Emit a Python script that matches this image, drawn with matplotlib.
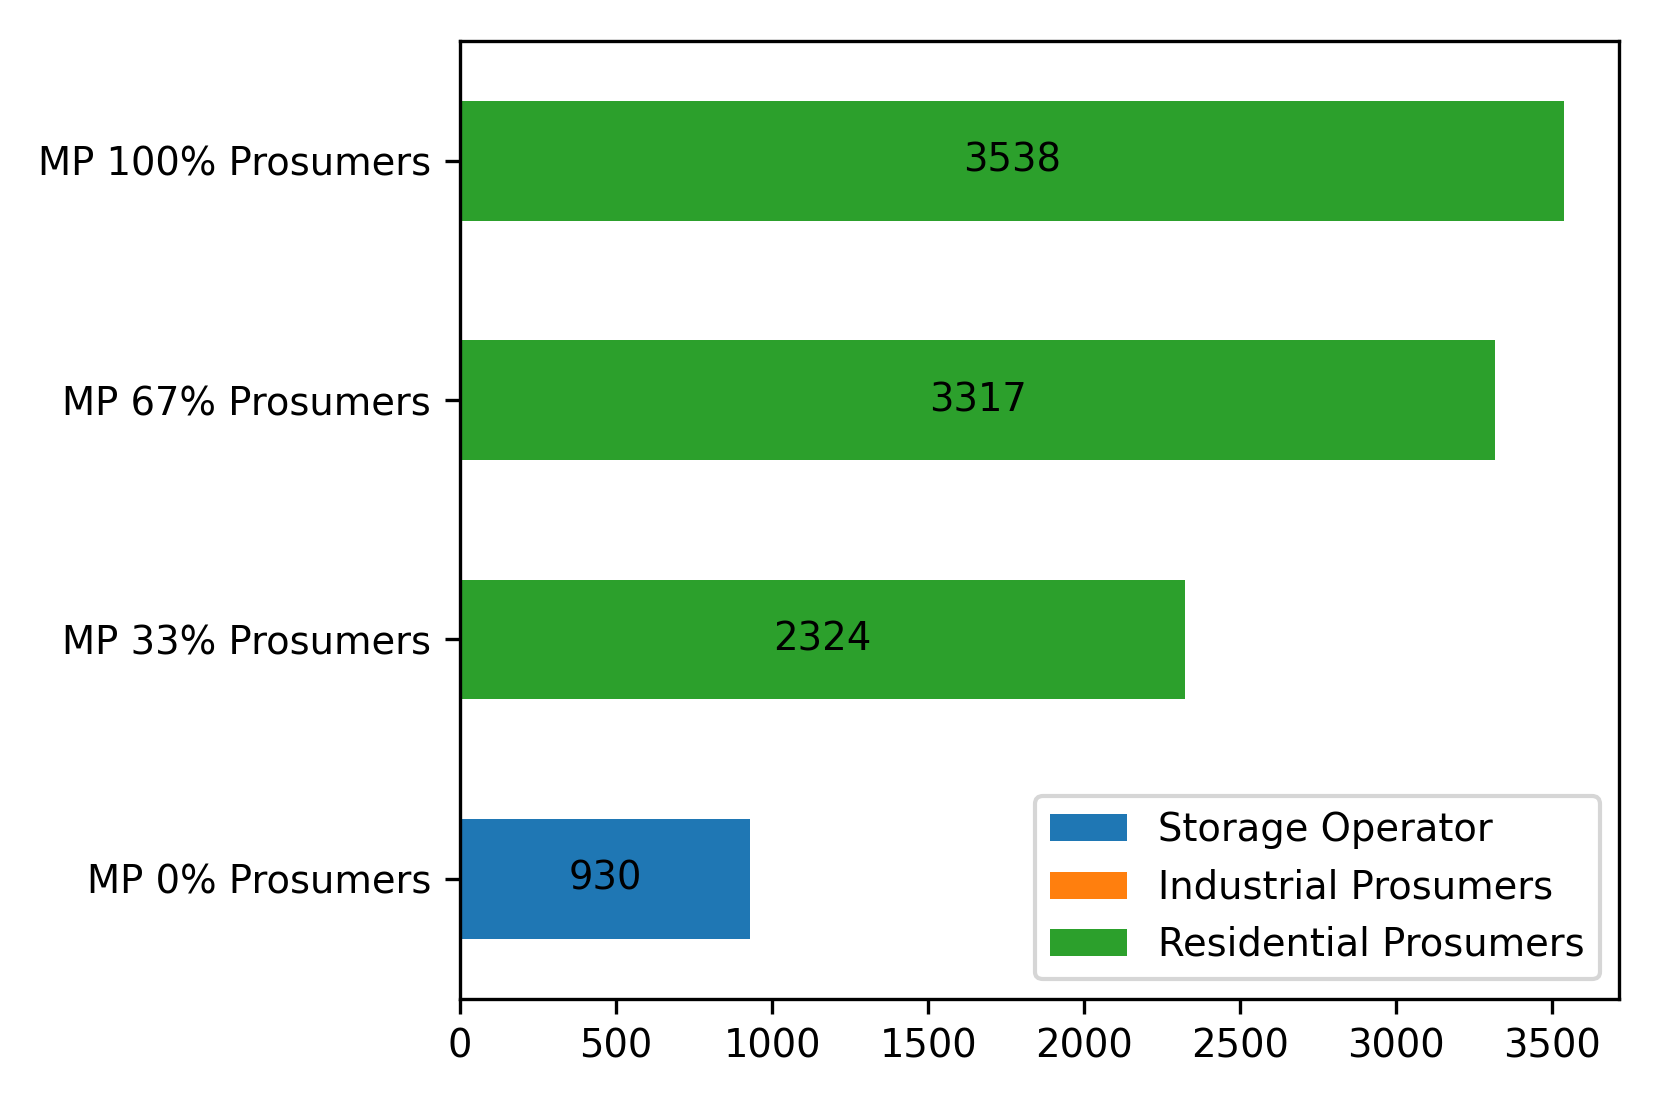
import numpy as np
import matplotlib
matplotlib.use("Agg")
import matplotlib.pyplot as plt

# data
scenarios = ["MP 0% Prosumers", "MP 33% Prosumers", "MP 67% Prosumers", "MP 100% Prosumers"]
storage_operator = [930, 0, 0, 0]
industrial_prosumers = [0, 0, 0, 0]
residential_prosumers = [0, 2324, 3317, 3538]

series = [
    ("Storage Operator", storage_operator, "#1f77b4"),
    ("Industrial Prosumers", industrial_prosumers, "#ff7f0e"),
    ("Residential Prosumers", residential_prosumers, "#2ca02c"),
]

plt.rcParams["font.size"] = 9.25

fig, ax = plt.subplots(figsize=(1661 / 300, 1107 / 300), dpi=300)
fig.subplots_adjust(left=0.277, right=0.975, top=0.963, bottom=0.098)

y = np.arange(len(scenarios))
left = np.zeros(len(scenarios))
for name, vals, color in series:
    vals = np.array(vals, dtype=float)
    bars = ax.barh(y, vals, height=0.5, left=left, color=color, label=name)
    labels = [f"{v:.0f}" if v > 0 else "" for v in vals]
    ax.bar_label(bars, labels=labels, label_type="center")
    left += vals

ax.set_yticks(y)
ax.set_yticklabels(scenarios)
ax.set_ylim(-0.5, len(scenarios) - 0.5)
ax.legend(loc="lower right")

fig.savefig("out.png", dpi=300)
